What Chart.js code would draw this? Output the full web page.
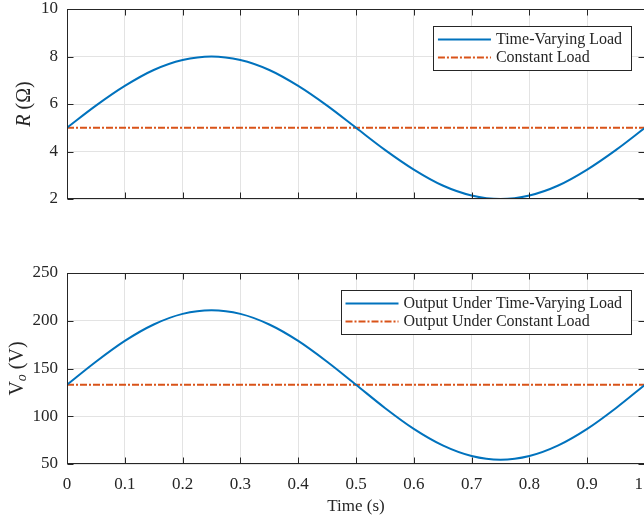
<!DOCTYPE html>
<html>
<head>
<meta charset="utf-8">
<script src="https://cdn.jsdelivr.net/npm/chart.js@4.4.1/dist/chart.umd.min.js"></script>
<style>
  html, body { margin: 0; padding: 0; background: #fff; }
  body { width: 644px; height: 520px; overflow: hidden; position: relative; }
  canvas { position: absolute; left: 0; }
  #loadChart { top: 0; }
  #outChart { top: 260px; }
</style>
</head>
<body>
<canvas id="loadChart" width="700" height="215"></canvas>
<canvas id="outChart" width="700" height="260"></canvas>
<script>
// time axis (s)
const time = [0, 0.05, 0.1, 0.15, 0.2, 0.25, 0.3, 0.35, 0.4, 0.45, 0.5,
              0.55, 0.6, 0.65, 0.7, 0.75, 0.8, 0.85, 0.9, 0.95, 1]
const constTime = [0, 1]

// load resistance (ohm)
const loadR = [5, 5.93, 6.76, 7.43, 7.85, 8, 7.85, 7.43, 6.76, 5.93, 5,
               4.07, 3.24, 2.57, 2.15, 2, 2.15, 2.57, 3.24, 4.07, 5]
const constR = [5, 5]

// output voltage (V)
const vOut = [133, 157.1, 178.9, 196.1, 207.2, 211, 207.2, 196.1, 178.9, 157.1, 133,
              108.7, 86.8, 69.5, 58.4, 54.5, 58.4, 69.5, 86.8, 108.7, 133]
const vConst = [133, 133]

const rTicks = [2, 4, 6, 8, 10]
const vTicks = [50, 100, 150, 200, 250]
const tTicks = [0, 0.1, 0.2, 0.3, 0.4, 0.5, 0.6, 0.7, 0.8, 0.9, 1]

const BLUE = '#0072BD'
const ORANGE = '#D95319'
const AXIS = '#262626'
const GRID = '#e3e3e3'
const SERIF = '"Liberation Serif", "Times New Roman", serif'

const pts = (xs, ys) => xs.map((x, i) => ({x: x, y: ys[i]}))

// box round the plot area with inward ticks on all four sides
const boxPlugin = {
    id: 'axesBox',
    afterDatasetsDraw(chart){
        const {ctx, chartArea: a, scales} = chart
        const L = Math.round(a.left) + 0.5, R = Math.round(a.right) - 0.5
        const T = Math.round(a.top) + 0.5, B = Math.round(a.bottom) - 0.5
        ctx.save()
        ctx.strokeStyle = AXIS
        ctx.lineWidth = 1
        ctx.strokeRect(L, T, R - L, B - T)
        ctx.beginPath()
        scales.x.ticks.forEach(t => {
            const px = Math.round(scales.x.getPixelForValue(t.value)) + 0.5
            ctx.moveTo(px, B); ctx.lineTo(px, B - 6)
            ctx.moveTo(px, T); ctx.lineTo(px, T + 6)
        })
        scales.y.ticks.forEach(t => {
            const py = Math.round(scales.y.getPixelForValue(t.value)) + 0.5
            ctx.moveTo(L, py); ctx.lineTo(L + 6, py)
            ctx.moveTo(R, py); ctx.lineTo(R - 6, py)
        })
        ctx.stroke()
        ctx.restore()
    }
}

// legend box in the upper right corner of the plot area
function legendPlugin(offRight, offTop){
    return {
        id: 'boxLegend',
        afterDraw(chart){
            const {ctx, chartArea: a} = chart
            const sets = chart.data.datasets
            ctx.save()
            ctx.font = '16px ' + SERIF
            const tw = Math.max(...sets.map(d => ctx.measureText(d.label).width))
            const w = 4.5 + 53 + 5 + tw + 9
            const rowH = 18
            const h = sets.length * rowH + 8
            const right = a.right - offRight
            const left = right - w
            const top = a.top + offTop
            ctx.fillStyle = '#fff'
            ctx.fillRect(left, top, w, h)
            ctx.strokeStyle = AXIS
            ctx.lineWidth = 1
            ctx.strokeRect(Math.round(left) + 0.5, Math.round(top) + 0.5, Math.round(w), Math.round(h))
            sets.forEach((d, i) => {
                const cy = Math.round(top + 4 + rowH * i + rowH / 2) + 0.5
                ctx.beginPath()
                ctx.setLineDash(d.borderDash || [])
                ctx.strokeStyle = d.borderColor
                ctx.lineWidth = d.borderWidth
                ctx.moveTo(left + 4.5, cy)
                ctx.lineTo(left + 4.5 + 53, cy)
                ctx.stroke()
                ctx.setLineDash([])
                ctx.fillStyle = AXIS
                ctx.textBaseline = 'middle'
                ctx.fillText(d.label, left + 4.5 + 53 + 5, cy)
            })
            ctx.restore()
        }
    }
}

// rotated y label made of runs with their own font and baseline shift
function yLabelPlugin(x, parts){
    return {
        id: 'yLabel',
        afterDraw(chart){
            const {ctx, chartArea: a} = chart
            ctx.save()
            ctx.fillStyle = AXIS
            ctx.textBaseline = 'middle'
            let total = 0
            parts.forEach(p => { ctx.font = p.font; total += ctx.measureText(p.text).width })
            ctx.translate(x, (a.top + a.bottom) / 2)
            ctx.rotate(-Math.PI / 2)
            let cx = -total / 2
            parts.forEach(p => {
                ctx.font = p.font
                ctx.fillText(p.text, cx, p.shift || 0)
                cx += ctx.measureText(p.text).width
            })
            ctx.restore()
        }
    }
}

function makeChart(el, cfg){
    return new Chart(el, {
        type: 'line',
        data: {
            datasets: [{
                label: cfg.labels[0],
                data: pts(time, cfg.series),
                borderColor: BLUE,
                borderWidth: 2,
                pointRadius: 0,
                cubicInterpolationMode: 'monotone'
            }, {
                label: cfg.labels[1],
                data: pts(constTime, cfg.constant),
                borderColor: ORANGE,
                borderWidth: 1.8,
                borderDash: [7, 2, 2, 2],
                pointRadius: 0
            }]
        },
        options: {
            responsive: false,
            animation: false,
            devicePixelRatio: 1,
            layout: {padding: {left: 0, right: 55, top: cfg.padTop, bottom: 0}},
            plugins: {legend: {display: false}, tooltip: {enabled: false}},
            scales: {
                x: {
                    type: 'linear', min: 0, max: 1,
                    afterBuildTicks: s => { s.ticks = tTicks.map(v => ({value: v})) },
                    afterFit: s => { s.height = cfg.xHeight; s.paddingLeft = 0; s.paddingRight = 0 },
                    grid: {color: GRID, drawTicks: false},
                    border: {display: false},
                    ticks: {
                        display: cfg.showX, padding: 10, color: AXIS,
                        font: {family: SERIF, size: 17}, maxRotation: 0
                    },
                    title: {
                        display: cfg.showX, text: 'Time (s)', color: AXIS,
                        font: {family: SERIF, size: 17}, padding: {top: 4, bottom: 3}
                    }
                },
                y: {
                    min: cfg.yTicks[0], max: cfg.yTicks[cfg.yTicks.length - 1],
                    afterBuildTicks: s => { s.ticks = cfg.yTicks.map(v => ({value: v})) },
                    afterFit: s => { s.width = 67; s.paddingTop = 0; s.paddingBottom = 0 },
                    grid: {color: GRID, drawTicks: false},
                    border: {display: false},
                    ticks: {padding: 9, color: AXIS, font: {family: SERIF, size: 17}}
                }
            }
        },
        plugins: [boxPlugin, legendPlugin(14, 17), yLabelPlugin(cfg.labelX, cfg.yLabel)]
    })
}

makeChart(document.getElementById('loadChart'), {
    series: loadR, constant: constR,
    labels: ['Time-Varying Load', 'Constant Load'],
    yTicks: rTicks, padTop: 9, xHeight: 16, showX: false,
    labelX: 25,
    yLabel: [
        {text: 'R', font: 'italic 20px ' + SERIF},
        {text: ' (\u03A9)', font: '20px ' + SERIF}
    ]
})

makeChart(document.getElementById('outChart'), {
    series: vOut, constant: vConst,
    labels: ['Output Under Time-Varying Load', 'Output Under Constant Load'],
    yTicks: vTicks, padTop: 13, xHeight: 56, showX: true,
    labelX: 18,
    yLabel: [
        {text: 'V', font: '20px ' + SERIF},
        {text: 'o', font: 'italic 14px ' + SERIF, shift: 4},
        {text: ' (V)', font: '20px ' + SERIF}
    ]
})
</script>
</body>
</html>
